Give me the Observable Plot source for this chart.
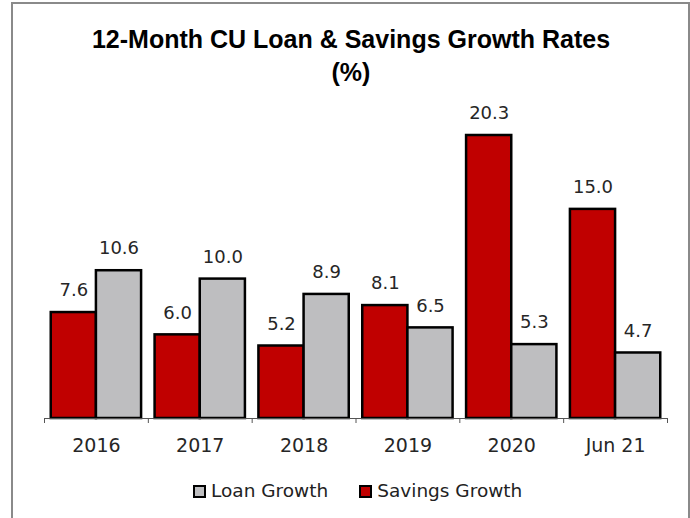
<!DOCTYPE html>
<html>
<head>
<meta charset="utf-8">
<script src="https://cdn.jsdelivr.net/npm/d3@7"></script>
<script src="https://cdn.jsdelivr.net/npm/@observablehq/plot@0.6"></script>
<style>
  html, body { margin: 0; padding: 0; background: #fff; }
  body { width: 690px; height: 518px; overflow: hidden; position: relative; font-family: "DejaVu Sans", sans-serif; }
  #frame { position: absolute; left: 11px; top: 2px; width: 679px; height: 540px; border: 2px solid #8a8a8a; box-sizing: border-box; }
  #title { position: absolute; left: 12px; width: 678px; top: 23px; text-align: center; font: bold 25px "Liberation Sans", Arial, sans-serif; line-height: 33px; color: #000; }
  #chart { position: absolute; left: 0; top: 95px; }
  #legend { position: absolute; left: 193px; top: 479px; display: flex; align-items: center; font-size: 18.5px; color: #222; line-height: 24px; white-space: nowrap; }
  .item { display: flex; align-items: center; }
  .item + .item { margin-left: 31px; }
  .sw { display: inline-block; width: 9px; height: 9px; border: 2.5px solid #000; margin-right: 5px; }
</style>
</head>
<body>
<div id="frame"></div>
<div id="title">12-Month CU Loan &amp; Savings Growth Rates<br>(%)</div>
<div id="chart"></div>
<div id="legend"></div>
<script>
const categories = ["2016", "2017", "2018", "2019", "2020", "Jun 21"];
const loanGrowth = [10.6, 10.0, 8.9, 6.5, 5.3, 4.7];
const savingsGrowth = [7.6, 6.0, 5.2, 8.1, 20.3, 15.0];
const seriesNames = ["Loan Growth", "Savings Growth"];
const seriesColors = ["#BEBEC0", "#C00000"];

const rows = categories.map((c, i) => ({i, c, loan: loanGrowth[i], savings: savingsGrowth[i]}));
const gap = 0.065;
const fmt = d3.format(".1f");
const textColor = "#262626";

const chart = Plot.plot({
  width: 690,
  height: 365,
  marginLeft: 44,
  marginRight: 23,
  marginTop: 16.3,
  marginBottom: 42,
  x: {domain: [0, categories.length], axis: null},
  y: {domain: [0, 22], axis: null},
  style: {fontFamily: "DejaVu Sans, sans-serif", background: "transparent"},
  marks: [
    Plot.rectY(rows, {x1: d => d.i + gap, x2: d => d.i + 0.5, y: "savings", fill: seriesColors[1], stroke: "#000", strokeWidth: 2.5}),
    Plot.rectY(rows, {x1: d => d.i + 0.5, x2: d => d.i + 1 - gap, y: "loan", fill: seriesColors[0], stroke: "#000", strokeWidth: 2.5}),
    Plot.text(rows, {x: d => d.i + (0.5 + gap) / 2, y: "savings", text: d => fmt(d.savings), dy: -22, fontSize: 18, fill: textColor}),
    Plot.text(rows, {x: d => d.i + (1.5 - gap) / 2, y: "loan", text: d => fmt(d.loan), dy: -22, fontSize: 18, fill: textColor}),
    Plot.ruleY([0], {stroke: "#555", strokeWidth: 1}),
    Plot.axisX({ticks: d3.range(categories.length + 1), tickSize: 5, tickFormat: () => "", stroke: "#555"}),
    Plot.axisX({ticks: rows.map(d => d.i + 0.5), tickSize: 0, tickPadding: 20, tickFormat: v => categories[Math.floor(v)], fontSize: 19, fill: textColor})
  ]
});
document.getElementById("chart").appendChild(chart);

const legend = document.getElementById("legend");
seriesNames.forEach((name, k) => {
  const item = document.createElement("span");
  item.className = "item";
  const sw = document.createElement("span");
  sw.className = "sw";
  sw.style.background = seriesColors[k];
  item.appendChild(sw);
  item.appendChild(document.createTextNode(name));
  legend.appendChild(item);
});
</script>
</body>
</html>
